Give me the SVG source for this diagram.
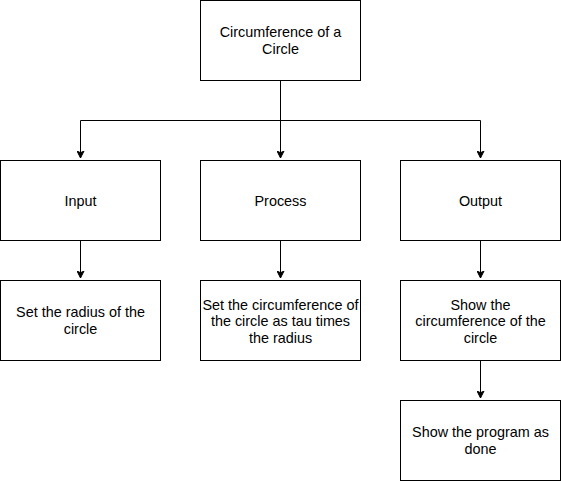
<svg xmlns="http://www.w3.org/2000/svg" width="561" height="481" viewBox="0 0 561 481">
<style>
rect{fill:#fff;stroke:#000;stroke-width:1}
text{font-family:"Liberation Sans",Arial,Helvetica,sans-serif;font-size:14.4px;fill:#000;text-anchor:middle}
.c path{fill:none;stroke:#000;stroke-width:1}
</style>
<defs>
<marker id="a" markerWidth="8" markerHeight="8" refX="7" refY="4" orient="auto" markerUnits="userSpaceOnUse">
<path d="M0,0.5 L7,4 L0,7.5 L1.75,4 Z" fill="#000" stroke="#000" stroke-width="1"/>
</marker>
</defs>
<rect width="561" height="481" style="fill:#fff;stroke:none"/>
<g class="c" id="connectors">
<path d="M280.5,80.5 V120.5"/>
<path d="M80.5,120.5 H480.5"/>
<path d="M80.5,120.5 V158" marker-end="url(#a)"/>
<path d="M280.5,120.5 V158" marker-end="url(#a)"/>
<path d="M480.5,120.5 V158" marker-end="url(#a)"/>
<path d="M80.5,240.5 V278" marker-end="url(#a)"/>
<path d="M280.5,240.5 V278" marker-end="url(#a)"/>
<path d="M480.5,240.5 V278" marker-end="url(#a)"/>
<path d="M480.5,360.5 V398" marker-end="url(#a)"/>
</g>
<g id="top"><rect x="200.5" y="0.5" width="160" height="80"/><text x="280.5" y="37">Circumference of a</text><text x="280.5" y="54">Circle</text></g>
<g id="input"><rect x="0.5" y="160.5" width="160" height="80"/><text x="80.5" y="205.5">Input</text></g>
<g id="process"><rect x="200.5" y="160.5" width="160" height="80"/><text x="280.5" y="205.5">Process</text></g>
<g id="output"><rect x="400.5" y="160.5" width="160" height="80"/><text x="480.5" y="205.5">Output</text></g>
<g id="radius"><rect x="0.5" y="280.5" width="160" height="80"/><text x="80.5" y="317">Set the radius of the</text><text x="80.5" y="334">circle</text></g>
<g id="circ"><rect x="200.5" y="280.5" width="160" height="80"/><text x="280.5" y="309.5">Set the circumference of</text><text x="280.5" y="326">the circle as tau times</text><text x="280.5" y="342.5">the radius</text></g>
<g id="show"><rect x="400.5" y="280.5" width="160" height="80"/><text x="480.5" y="309.5">Show the</text><text x="480.5" y="326">circumference of the</text><text x="480.5" y="342.5">circle</text></g>
<g id="done"><rect x="400.5" y="400.5" width="160" height="80"/><text x="480.5" y="437">Show the program as</text><text x="480.5" y="454">done</text></g>
</svg>
